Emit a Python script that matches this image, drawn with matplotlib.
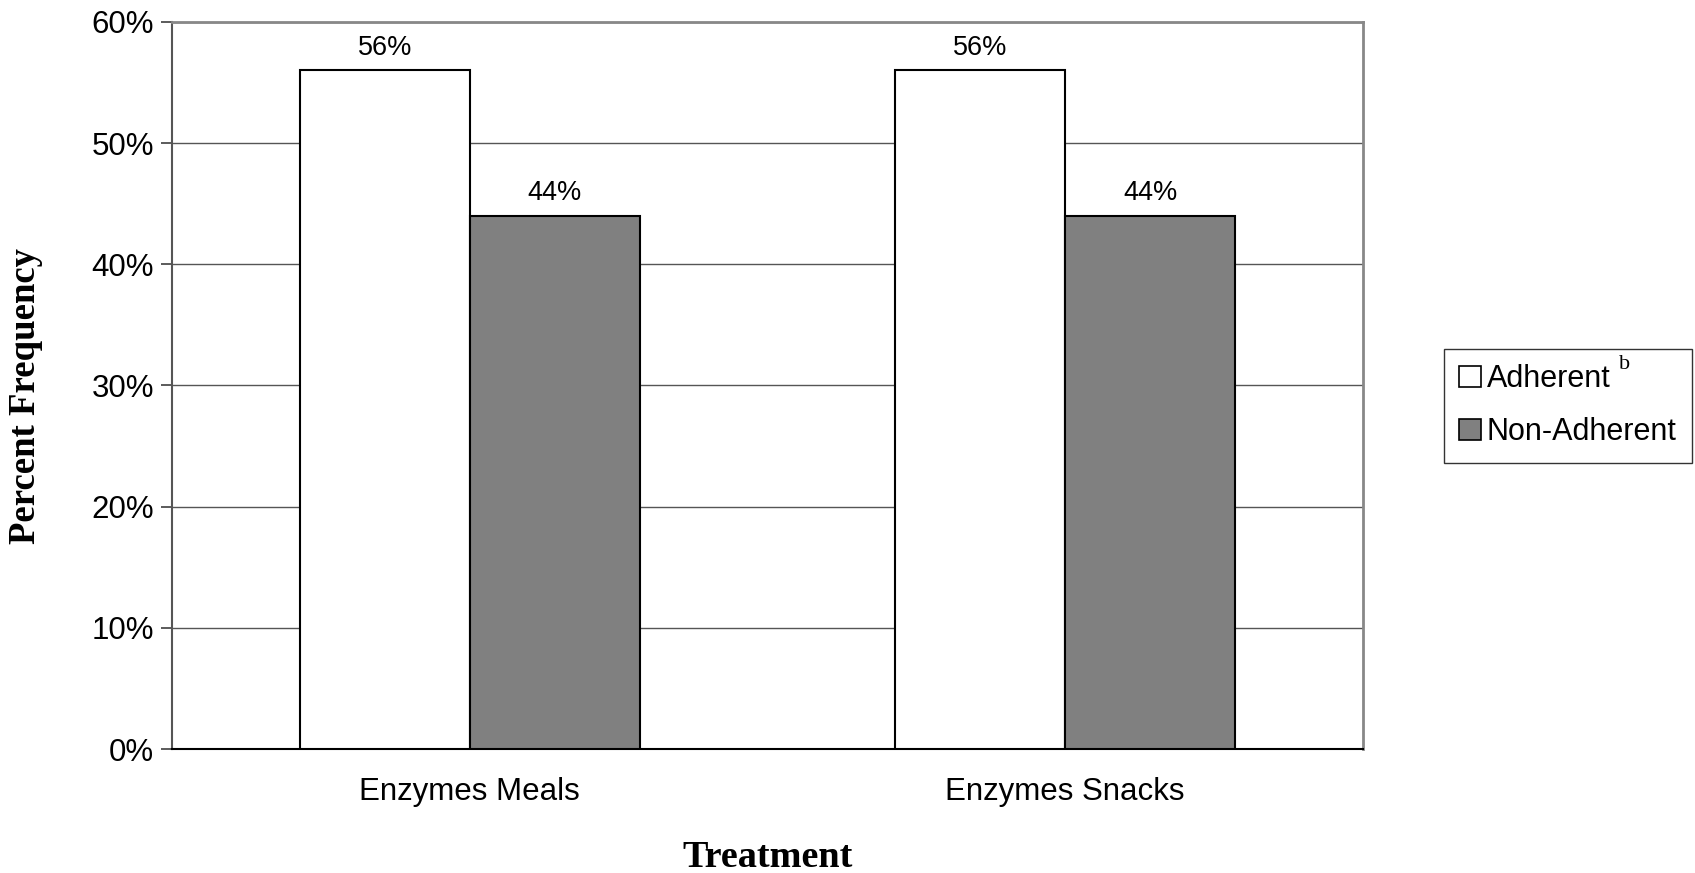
import matplotlib
matplotlib.use("Agg")
import matplotlib.pyplot as plt
import numpy as np
from matplotlib.patches import Patch

categories = ["Enzymes Meals", "Enzymes Snacks"]
adherent = [56, 56]
non_adherent = [44, 44]
series_names = ["Adherent", "Non-Adherent"]
yticks = [0, 10, 20, 30, 40, 50, 60]

plt.rcParams['font.family'] = ['Liberation Sans', 'DejaVu Sans']

fig = plt.figure(figsize=(16.95, 8.73), dpi=100)
ax = fig.add_axes([0.1015, 0.142, 0.7025, 0.833])

x = np.arange(len(categories))
w = 1 / 3.5
b1 = ax.bar(x - w / 2, adherent, w, color='white', edgecolor='black', linewidth=1.5, zorder=3)
b2 = ax.bar(x + w / 2, non_adherent, w, color='#808080', edgecolor='black', linewidth=1.5, zorder=3)

for bars, vals in ((b1, adherent), (b2, non_adherent)):
    for r, v in zip(bars, vals):
        ax.annotate(f"{v}%", (r.get_x() + r.get_width() / 2, v), xytext=(0, 7),
                    textcoords='offset points', ha='center', va='bottom', fontsize=19.5)

ax.set_xlim(-0.5, len(categories) - 0.5)
ax.set_ylim(0, 60)
ax.set_yticks(yticks)
ax.set_yticklabels([f"{t}%" for t in yticks], fontsize=22.5)
ax.set_xticks(x)
ax.set_xticklabels(categories, fontsize=22.5)
ax.tick_params(axis='x', length=0, pad=20)
ax.tick_params(axis='y', length=8, width=1.2, color='#404040', pad=5)
ax.yaxis.grid(True, color='#555555', linewidth=1.0, zorder=0)
ax.set_axisbelow(True)

ax.spines['top'].set_color('#888888')
ax.spines['top'].set_linewidth(2)
ax.spines['right'].set_color('#888888')
ax.spines['right'].set_linewidth(2)
ax.spines['left'].set_color('#555555')
ax.spines['left'].set_linewidth(1.5)
ax.spines['bottom'].set_color('black')
ax.spines['bottom'].set_linewidth(1.5)

ax.set_ylabel("Percent Frequency", family=['Liberation Serif'], fontweight='bold', fontsize=26.5)
ax.yaxis.set_label_coords(-0.108, 0.486)
ax.set_xlabel("Treatment", family=['Liberation Serif'], fontweight='bold', fontsize=27.5, labelpad=24)

handles = [Patch(facecolor='white', edgecolor='black', linewidth=1.2),
           Patch(facecolor='#808080', edgecolor='black', linewidth=1.2)]
leg = fig.legend(handles, series_names, loc='upper left', bbox_to_anchor=(0.852, 0.600),
                 fontsize=22, frameon=True, fancybox=False, edgecolor='black',
                 handlelength=0.7, handleheight=0.7, handletextpad=0.2,
                 borderpad=0.5, labelspacing=0.75, borderaxespad=0, framealpha=1)
leg.get_frame().set_linewidth(1.0)
leg.get_frame().set_edgecolor('#333333')
fig.text(0.955, 0.583, "b", family=['Liberation Serif'], fontsize=16, ha='left', va='center', zorder=10)

fig.savefig("out.png", dpi=100)
